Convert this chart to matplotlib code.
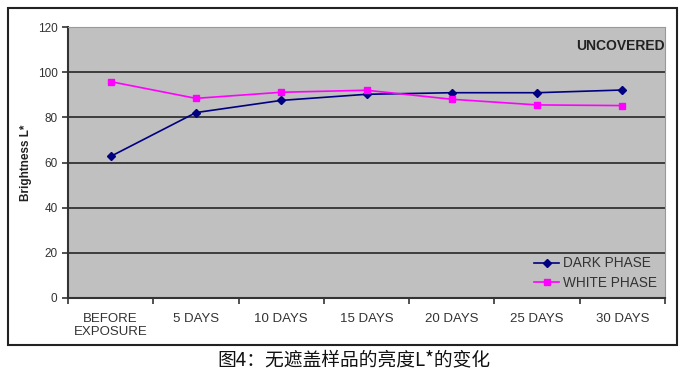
import matplotlib
matplotlib.use("Agg")
import matplotlib.pyplot as plt
from matplotlib.patches import Rectangle
import numpy as np

categories = ["BEFORE\nEXPOSURE", "5 DAYS", "10 DAYS", "15 DAYS", "20 DAYS", "25 DAYS", "30 DAYS"]
dark_phase = [62.7, 82.1, 87.5, 90.2, 90.9, 90.9, 92.1]
white_phase = [95.8, 88.4, 91.1, 92.0, 88.0, 85.5, 85.2]
y_ticks = [0, 20, 40, 60, 80, 100, 120]

plt.rcParams['font.family'] = ['Liberation Sans', 'DejaVu Sans']

fig = plt.figure(figsize=(7, 3.75), dpi=100)
fig.patch.set_facecolor('white')

# outer frame
fig.patches.append(Rectangle((8/700, 1-345/375), (677-8)/700, (345-8)/375,
                             transform=fig.transFigure, fill=False,
                             edgecolor='#222222', linewidth=1.5, zorder=0))

ax = fig.add_axes([68/700, 1-298/375, (665-68)/700, (298-27)/375])
ax.set_facecolor('#C0C0C0')
x = np.arange(len(categories))
ax.set_xlim(-0.5, len(categories)-0.5)
ax.set_ylim(0, 120)
ax.set_yticks(y_ticks)
ax.yaxis.grid(True, color='#333333', linewidth=1.3)
ax.set_axisbelow(True)

ax.plot(x, dark_phase, color='#000080', marker='D', markersize=4, linewidth=1.2, label='DARK PHASE')
ax.plot(x, white_phase, color='#FF00FF', marker='s', markersize=5, linewidth=1.2, label='WHITE PHASE')

ax.set_xticks(x)
ax.set_xticklabels(categories, fontsize=9.5, color='#333333', linespacing=1.1)
ax.set_xticks(np.arange(len(categories)+1)-0.5, minor=True)
ax.tick_params(axis='x', which='major', length=0, pad=11)
ax.tick_params(axis='x', which='minor', length=4, width=1.2, color='#333333', direction='out')
ax.tick_params(axis='y', labelsize=8.5, labelcolor='#333333', length=4, width=1.2, color='#333333')

for s in ['top', 'right']:
    ax.spines[s].set_color('#999999')
    ax.spines[s].set_linewidth(0.8)
for s in ['left', 'bottom']:
    ax.spines[s].set_color('#333333')
    ax.spines[s].set_linewidth(1.5)

ax.set_ylabel('Brightness L*', fontsize=8.5, fontweight='bold', color='#222222', labelpad=4)
ax.text(1.0, 0.93, 'UNCOVERED', transform=ax.transAxes, ha='right', va='center',
        fontsize=10, fontweight='bold', color='#222222')

leg = ax.legend(loc='lower right', frameon=False, fontsize=9.8, handlelength=1.8,
                borderaxespad=0.2, labelspacing=0.4, handletextpad=0.3)
for t in leg.get_texts():
    t.set_color('#333333')

fig.text(354/700, 1-360/375, '图4：无遮盖样品的亮度L*的变化', ha='center', va='center',
         fontsize=13.5, family=['Noto Sans CJK SC', 'DejaVu Sans'], color='#111111')

fig.savefig('out.png', dpi=100)
